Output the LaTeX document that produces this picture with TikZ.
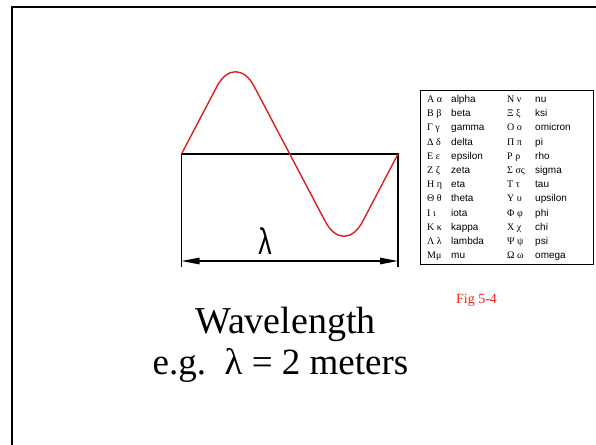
\documentclass[tikz,border=0pt]{standalone}
\usepackage{fontspec}
\setmainfont{Liberation Serif}
\setsansfont{Liberation Sans}
\usetikzlibrary{arrows.meta, positioning}
\definecolor{wavered}{RGB}{220,30,36}
\definecolor{figred}{RGB}{238,36,36}

\begin{document}
\begin{tikzpicture}[
    x=1pt, y=-1pt,
    >={Triangle[length=18pt, width=6.5pt]},
    frame/.style={line width=2.6pt, black},
    dimline/.style={line width=1.1pt, black},
    wave/.style={line width=1.4pt, wavered, rounded corners=40pt},
    caption/.style={font=\fontsize{38}{40}\selectfont, anchor=base, inner sep=0pt},
    figlabel/.style={font=\fontsize{14}{16}\selectfont, text=figred, anchor=base, inner sep=0pt},
    lamlabel/.style={font=\sffamily\fontsize{37}{40}\selectfont, inner sep=0pt},
    tabbox/.style={draw, line width=0.9pt, anchor=north west, inner sep=0pt, minimum width=173pt, minimum height=174pt},
    tabtext/.style={anchor=base west, inner sep=0pt, font=\fontsize{10}{14.2}\selectfont},
  ]
  \useasboundingbox (0,0) rectangle (596,444);
  % slide frame
  \draw[frame] (12,450) -- (12,7) -- (600,7);
  % one wavelength
  \coordinate (bl) at (181.5,267);
  \coordinate (tl) at (181.5,154);
  \coordinate (tr) at (398,154);
  \coordinate (br) at (398,267);
  \coordinate (crest) at (235.5,51);
  \coordinate (trough) at (344,257);
  \draw[dimline] (bl) -- (tl) -- (tr) -- (br);
  \draw[wave] (tl) -- (crest) -- (trough) -- (tr);
  \coordinate (al) at (181.5,261);
  \coordinate (ar) at (398,261);
  \draw[dimline, <->] (al) -- (ar);
  \node[lamlabel] (lam) at (265,241) {\scalebox{0.72}[1]{λ}};
  % greek alphabet
  \node[tabbox] (tab) at (420,90) {};
  \node[tabtext] (abc) at (427,102.5) {%
    \begin{tabular}[t]{@{}p{24pt}@{}p{56pt}@{}p{28pt}@{}l@{}}
      Α α & \sffamily alpha   & Ν ν  & \sffamily nu \\
      Β β & \sffamily beta    & Ξ ξ  & \sffamily ksi \\
      Γ γ & \sffamily gamma   & Ο ο  & \sffamily omicron \\
      Δ δ & \sffamily delta   & Π π  & \sffamily pi \\
      Ε ε & \sffamily epsilon & Ρ ρ  & \sffamily rho \\
      Ζ ζ & \sffamily zeta    & Σ σς & \sffamily sigma \\
      Η η & \sffamily eta     & Τ τ  & \sffamily tau \\
      Θ θ & \sffamily theta   & Υ υ  & \sffamily upsilon \\
      Ι ι & \sffamily iota    & Φ φ  & \sffamily phi \\
      Κ κ & \sffamily kappa   & Χ χ  & \sffamily chi \\
      Λ λ & \sffamily lambda  & Ψ ψ  & \sffamily psi \\
      Μμ  & \sffamily mu      & Ω ω  & \sffamily omega
    \end{tabular}};
  \node[figlabel] (fig) at (476.5,303) {Fig 5-4};
  % caption
  \node[caption] (wl) at (285.5,333) {Wavelength};
  \node[caption, font=\fontsize{37}{40}\selectfont] (eg) at (280.5,374) {e.g.\hspace{0.5em}λ = 2 meters};
\end{tikzpicture}
\end{document}
